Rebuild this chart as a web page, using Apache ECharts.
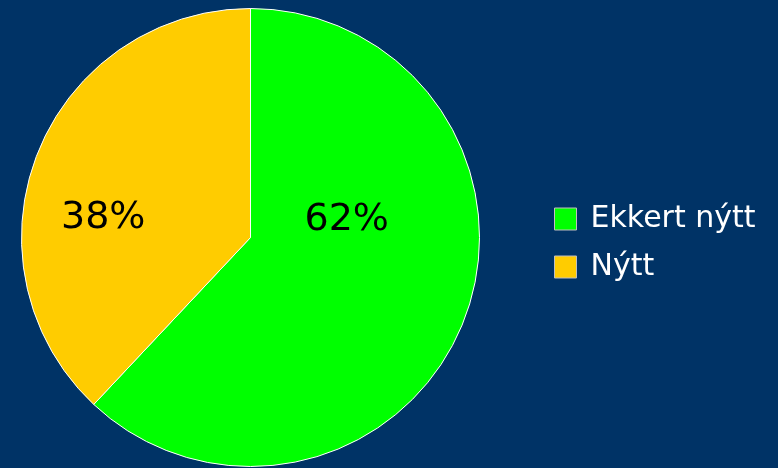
<!DOCTYPE html>
<html>
<head>
<meta charset="utf-8">
<script src="https://cdn.jsdelivr.net/npm/echarts@6/dist/echarts.min.js"></script>
<style>
html,body{margin:0;padding:0;background:#003366;}
#c{width:778px;height:468px;}
</style>
</head>
<body>
<div id="c"></div>
<script>
const categories = ['Ekkert nýtt', 'Nýtt'];
const values = [62, 38];
const colors = ['#00FF00', '#FFCC00'];

const chart = echarts.init(document.getElementById('c'));
const offsets = [[-13, -61], [-38, 24]];
chart.setOption({
  backgroundColor: '#003366',
  animation: false,
  legend: {
    orient: 'vertical',
    left: 549,
    top: 199,
    padding: 5,
    itemWidth: 22,
    itemHeight: 22,
    itemGap: 18,
    icon: 'rect',
    itemStyle: { borderColor: '#c0c0c0', borderWidth: 1 },
    textStyle: { color: '#ffffff', fontSize: 30, lineHeight: 22, fontFamily: 'DejaVu Sans', padding: [0, 0, 0, 9] },
    data: categories
  },
  series: [{
    type: 'pie',
    center: [250.5, 237.5],
    radius: 229,
    startAngle: 90,
    clockwise: true,
    data: categories.map((n, i) => ({
      name: n,
      value: values[i],
      itemStyle: { color: colors[i] },
      label: { offset: offsets[i] }
    })),
    itemStyle: { borderColor: '#ffffff', borderWidth: 1 },
    label: {
      show: true,
      position: 'inside',
      formatter: '{c}%',
      color: '#000000',
      fontSize: 38,
      fontFamily: 'DejaVu Sans'
    },
    labelLine: { show: false },
    emphasis: { disabled: true }
  }]
});
</script>
</body>
</html>
